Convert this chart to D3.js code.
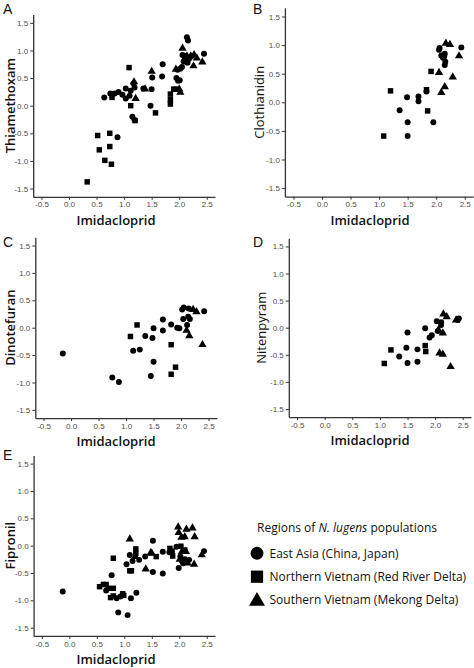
<!DOCTYPE html>
<html>
<head>
<meta charset="utf-8">
<script src="https://cdn.jsdelivr.net/npm/d3@7"></script>
<style>
html,body{margin:0;padding:0;background:#fff;}
svg{display:block;}
</style>
</head>
<body>
<svg id="chart" width="474" height="668"></svg>
<script>
// ---------- data ----------
const xTicks = [-0.5, 0.0, 0.5, 1.0, 1.5, 2.0, 2.5];
const yTicks = [-1.5, -1.0, -0.5, 0.0, 0.5, 1.0, 1.5];
const xLabel = "Imidacloprid";
const regions = ["East Asia (China, Japan)", "Northern Vietnam (Red River Delta)", "Southern Vietnam (Mekong Delta)"];

// Panel A: Thiamethoxam
const thiaEast = [[0.64,0.15],[0.75,0.22],[0.83,0.22],[0.90,0.25],[0.97,0.20],[1.03,0.31],[1.03,0.13],[1.10,0.18],[1.12,0.27],[1.17,0.40],[1.19,0.33],[1.15,-0.20],[1.19,-0.26],[0.88,-0.57],[1.35,0.31],[1.48,0.00],[1.50,0.30],[1.51,0.51],[1.70,0.75],[1.69,0.53],[1.95,0.50],[1.98,0.45],[2.01,0.46],[1.97,0.65],[2.02,0.67],[2.05,0.70],[2.06,0.92],[2.10,0.90],[2.14,1.24],[2.16,1.18],[2.12,0.82],[2.15,0.78],[2.18,0.85],[2.20,0.88],[2.45,0.94],[2.08,0.80]];
const thiaNorth = [[0.33,-1.38],[0.52,-0.54],[0.55,-0.80],[0.65,-0.99],[0.74,-0.50],[0.74,-0.74],[0.77,-1.06],[1.09,0.69],[0.78,0.15],[1.12,0.00],[1.20,-0.27],[1.57,-0.13],[1.84,0.21],[1.84,0.11],[1.84,0.03],[1.90,0.30],[1.95,0.30],[2.10,0.85],[2.15,0.80]];
const thiaSouth = [[1.50,0.62],[1.38,0.30],[1.21,0.13],[1.18,0.43],[2.06,1.04],[2.02,0.24],[2.00,0.30],[2.27,0.92],[2.32,0.86],[2.42,0.79],[2.26,0.72],[1.94,0.66],[2.14,0.90],[2.21,0.90]];

// Panel B: Clothianidin
const clotEast = [[1.49,0.09],[1.36,-0.14],[1.50,-0.35],[1.50,-0.59],[1.69,0.10],[1.69,0.02],[1.83,0.19],[1.95,-0.35],[2.05,0.92],[2.06,0.95],[2.09,0.82],[2.12,0.78],[2.15,0.85],[2.16,0.71],[2.15,0.65],[2.14,0.80],[2.44,0.96]];
const clotNorth = [[1.08,-0.59],[1.20,0.20],[1.83,0.22],[1.91,0.54],[1.85,-0.15]];
const clotSouth = [[2.17,1.03],[2.24,1.01],[2.40,0.81],[2.05,0.52],[2.29,0.44],[2.15,0.27],[2.09,0.17]];

// Panel C: Dinotefuran
const dinoEast = [[-0.15,-0.47],[0.75,-0.91],[0.87,-0.99],[1.13,-0.42],[1.25,-0.40],[1.35,-0.15],[1.48,-0.19],[1.50,-0.01],[1.50,-0.62],[1.45,-0.88],[1.67,0.15],[1.67,-0.05],[1.82,0.06],[1.93,0.00],[1.97,-0.01],[2.02,0.33],[2.05,0.37],[2.14,0.35],[2.04,0.16],[2.11,0.05],[2.13,0.20],[2.16,0.16],[2.42,0.30]];
const dinoNorth = [[1.08,-0.16],[1.20,0.05],[1.82,-0.31],[1.90,-0.72],[1.82,-0.85]];
const dinoSouth = [[2.10,-0.05],[2.15,-0.15],[2.22,0.33],[2.28,0.29],[2.39,-0.31]];

// Panel D: Nitenpyram
const nitEast = [[1.35,-0.53],[1.48,-0.37],[1.50,-0.65],[1.50,-0.09],[1.68,-0.40],[1.68,-0.63],[1.82,-0.01],[1.90,-0.18],[1.94,-0.14],[2.03,0.12],[2.11,0.05],[2.11,0.10],[2.05,-0.06],[2.41,0.14],[2.43,0.17]];
const nitNorth = [[1.08,-0.66],[1.20,-0.41],[1.82,-0.33],[1.83,-0.44]];
const nitSouth = [[2.15,0.25],[2.21,0.20],[2.06,-0.04],[2.14,-0.10],[2.08,-0.47],[2.14,-0.49],[2.28,-0.72],[2.38,0.14]];

// Panel E: Fipronil
const fipEast = [[-0.12,-0.84],[0.67,-0.82],[0.77,-0.54],[0.86,-0.96],[0.89,-1.22],[1.06,-1.27],[1.12,-0.96],[1.22,-0.86],[1.04,-0.34],[1.15,-0.28],[1.27,-0.26],[1.38,-0.20],[1.52,0.09],[1.52,-0.48],[1.70,-0.51],[1.70,-0.11],[1.95,-0.02],[1.99,-0.41],[2.05,-0.28],[2.10,-0.25],[2.18,-0.26],[2.45,-0.10],[1.82,-0.12],[2.02,-0.20],[2.07,-0.32],[0.93,-0.93],[1.10,-0.17]];
const fipNorth = [[0.55,-0.75],[0.62,-0.71],[0.67,-0.71],[0.71,-0.78],[0.80,-0.78],[0.75,-0.95],[0.80,-0.92],[0.97,-0.88],[0.99,-0.91],[0.80,-0.23],[1.10,-0.46],[1.13,-0.46],[1.21,-0.06],[1.21,-0.14],[1.58,-0.20],[1.83,-0.05],[1.87,-0.10],[1.88,-0.19],[2.03,-0.01],[2.10,-0.08]];
const fipSouth = [[1.10,0.12],[1.50,-0.14],[1.39,-0.43],[1.98,0.34],[1.99,0.24],[2.13,0.30],[2.24,0.32],[2.28,0.16],[2.10,0.16],[2.04,0.15],[2.01,-0.25],[2.15,-0.32],[2.27,-0.34],[2.41,-0.17],[2.12,-0.11],[2.05,-0.11],[1.20,-0.20],[1.48,-0.13]];

// ---------- drawing ----------
const svg = d3.select("#chart");
const xDomain = [-0.65, 2.65];
const yDomain = [-1.65, 1.65];
const fontTitle = "'Open Sans', 'Noto Sans', sans-serif";
const fontTick = "'Liberation Sans', Arial, sans-serif";

const symbols = [d3.symbolCircle, d3.symbolSquare, d3.symbolTriangle];
const sizes = [28, 30, 30];

function panel(cfg) {
  const x = d3.scaleLinear().domain(xDomain).range([cfg.x0, cfg.x1]);
  const y = d3.scaleLinear().domain(yDomain).range([cfg.y1, cfg.y0]);
  const g = svg.append("g");

  const fmt = d => d.toFixed(1);
  const ax = g.append("g").attr("transform", `translate(0,${cfg.y1})`)
    .call(d3.axisBottom(x).tickValues(xTicks).tickFormat(fmt).tickSize(3).tickPadding(2).tickSizeOuter(0));
  const ay = g.append("g").attr("transform", `translate(${cfg.x0},0)`)
    .call(d3.axisLeft(y).tickValues(yTicks).tickFormat(fmt).tickSize(3).tickPadding(2).tickSizeOuter(0));
  [ax, ay].forEach(a => {
    a.select(".domain").attr("stroke", "#333").attr("stroke-width", 1.3);
    a.selectAll(".tick line").attr("stroke", "#333").attr("stroke-width", 1);
    a.selectAll(".tick text").attr("fill", "#4d4d4d").style("font-family", fontTick).style("font-size", "8px");
  });

  cfg.series.forEach((s, i) => {
    g.append("g").selectAll("path").data(s).join("path")
      .attr("transform", d => `translate(${x(d[0])},${y(d[1])})`)
      .attr("d", d3.symbol().type(symbols[i]).size(sizes[i]))
      .attr("fill", "#000");
  });

  // x title
  g.append("text").attr("x", cfg.xtX).attr("y", cfg.y1 + 28)
    .attr("text-anchor", "middle").style("font-family", fontTitle)
    .style("font-size", "13px").style("font-weight", 600).attr("fill", "#111").text(xLabel);
  // y title
  g.append("text").attr("transform", `translate(${cfg.ytX},${(cfg.y0 + cfg.y1) / 2}) rotate(-90)`)
    .attr("text-anchor", "middle").style("font-family", fontTitle)
    .style("font-size", "13px").style("font-weight", cfg.ytW).attr("fill", "#111").text(cfg.ytitle);
  // letter
  g.append("text").attr("x", cfg.lx).attr("y", cfg.ly)
    .style("font-family", fontTick).style("font-size", "14px").attr("fill", "#111").text(cfg.letter);
}

panel({x0: 33.2, x1: 215, y0: 14.6, y1: 196.8, series: [thiaEast, thiaNorth, thiaSouth],
  ytitle: "Thiamethoxam", ytX: 14.5, ytW: 600, xtX: 116, letter: "A", lx: 3, ly: 13.5});
panel({x0: 284.9, x1: 473.3, y0: 7.9, y1: 196.7, series: [clotEast, clotNorth, clotSouth],
  ytitle: "Clothianidin", ytX: 264, ytW: 400, xtX: 370, letter: "B", lx: 253, ly: 13.5});
panel({x0: 35.3, x1: 216.8, y0: 237.3, y1: 418.1, series: [dinoEast, dinoNorth, dinoSouth],
  ytitle: "Dinotefuran", ytX: 14.5, ytW: 600, xtX: 116, letter: "C", lx: 3, ly: 247});
panel({x0: 288.8, x1: 471, y0: 238.3, y1: 417.1, series: [nitEast, nitNorth, nitSouth],
  ytitle: "Nitenpyram", ytX: 266, ytW: 400, xtX: 370, letter: "D", lx: 253, ly: 247});
panel({x0: 33.6, x1: 215, y0: 455.4, y1: 635.9, series: [fipEast, fipNorth, fipSouth],
  ytitle: "Fipronil", ytX: 14.5, ytW: 600, xtX: 116, letter: "E", lx: 3, ly: 460});

// legend
const lg = svg.append("g");
const lt = lg.append("text").attr("x", 257).attr("y", 532)
  .style("font-family", fontTitle).style("font-size", "12px").attr("fill", "#111");
lt.append("tspan").text("Regions of ");
lt.append("tspan").style("font-style", "italic").text("N. lugens");
lt.append("tspan").text(" populations");
const legSizes = [130, 150, 110];
regions.forEach((r, i) => {
  const cy = 553.3 + i * 23.4;
  lg.append("path").attr("transform", `translate(257,${cy + (i === 2 ? 1 : 0)})`)
    .attr("d", d3.symbol().type(symbols[i]).size(legSizes[i])).attr("fill", "#000");
  lg.append("text").attr("x", 269.5).attr("y", cy + 4.3)
    .style("font-family", fontTitle).style("font-size", "12px").attr("fill", "#111").text(r);
});
</script>
</body>
</html>
